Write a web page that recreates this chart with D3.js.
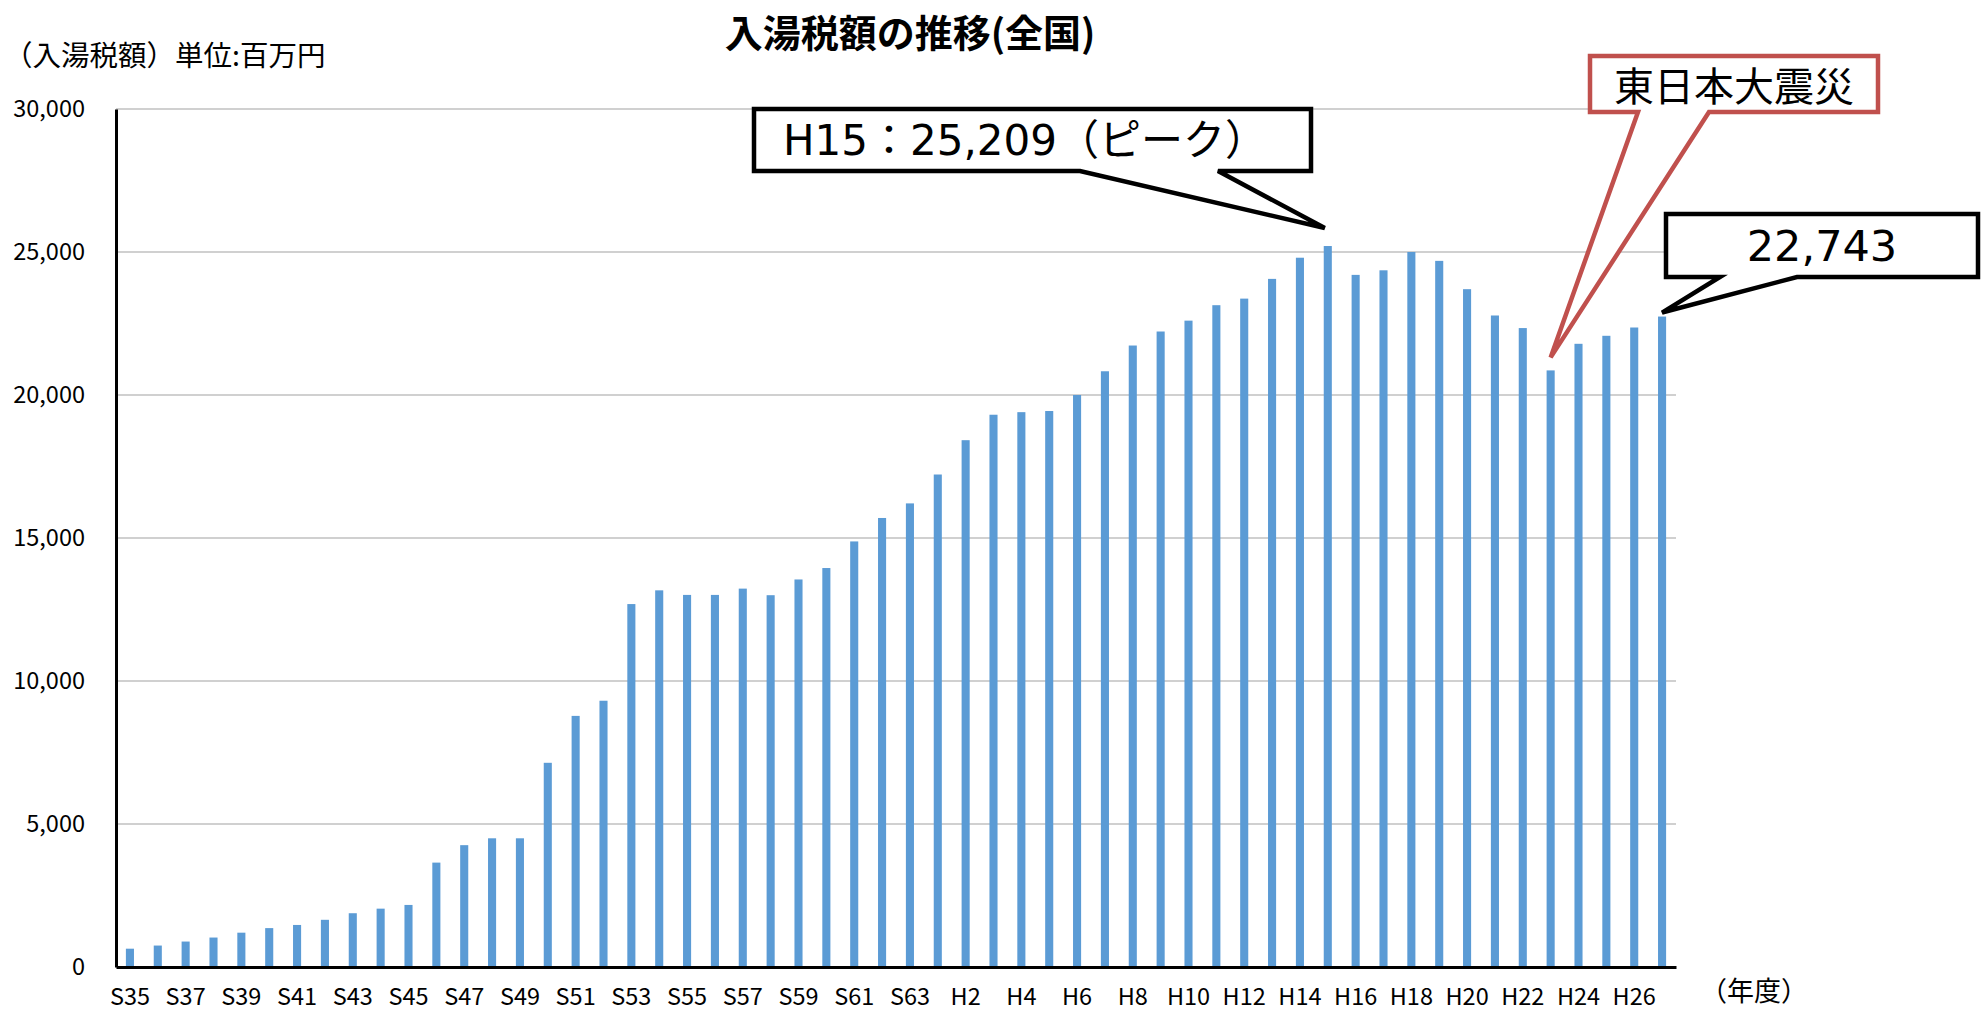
<!DOCTYPE html>
<html>
<head>
<meta charset="utf-8">
<script src="https://cdn.jsdelivr.net/npm/d3@7"></script>
<style>
  body { margin: 0; background: #fff; }
  svg text { font-family: "Noto Sans CJK JP", "Noto Sans", sans-serif; }
</style>
</head>
<body>
<div id="chart"></div>
<script>
// 年度 (昭和35年度〜平成27年度)
var years = ["S35","S36","S37","S38","S39","S40","S41","S42","S43","S44",
  "S45","S46","S47","S48","S49","S50","S51","S52","S53","S54",
  "S55","S56","S57","S58","S59","S60","S61","S62","S63",
  "H1","H2","H3","H4","H5","H6","H7","H8","H9","H10",
  "H11","H12","H13","H14","H15","H16","H17","H18","H19","H20",
  "H21","H22","H23","H24","H25","H26","H27"];

// 入湯税額 (百万円)
var amounts = [640, 750, 890, 1030, 1200, 1360, 1470, 1650, 1880, 2040,
  2170, 3650, 4260, 4500, 4500, 7140, 8780, 9310, 12690, 13170,
  13010, 13010, 13230, 13000, 13550, 13950, 14880, 15700, 16210,
  17220, 18420, 19310, 19400, 19440, 20000, 20830, 21730, 22220, 22600,
  23140, 23370, 24060, 24800, 25209, 24200, 24360, 25000, 24690, 23700,
  22780, 22340, 20860, 21790, 22070, 22360, 22743];

var tickLabels = ["S35","S37","S39","S41","S43","S45","S47","S49","S51","S53",
  "S55","S57","S59","S61","S63","H2","H4","H6","H8","H10","H12","H14",
  "H16","H18","H20","H22","H24","H26"];

var yTicks = [0, 5000, 10000, 15000, 20000, 25000, 30000];

var width = 1984, height = 1015;
var margin = {top: 109, left: 116, right: 308, bottom: 48};

var svg = d3.select("#chart")
  .append("svg")
  .attr("width", width)
  .attr("height", height);

var x = d3.scaleBand()
  .domain(years)
  .range([margin.left, width - margin.right])
  .paddingInner(0.71)
  .paddingOuter(0.355);

var y = d3.scaleLinear()
  .domain([0, 30000])
  .range([height - margin.bottom, margin.top]);

// gridlines
svg.append("g")
  .selectAll("line")
  .data(yTicks.slice(1))
  .enter().append("line")
  .attr("x1", margin.left)
  .attr("x2", width - margin.right)
  .attr("y1", function(d){ return y(d); })
  .attr("y2", function(d){ return y(d); })
  .attr("stroke", "#c0c0c0")
  .attr("stroke-width", 1.6);

// bars
svg.append("g")
  .selectAll("rect")
  .data(amounts)
  .enter().append("rect")
  .attr("x", function(d, i){ return x(years[i]); })
  .attr("width", x.bandwidth())
  .attr("y", function(d){ return y(d); })
  .attr("height", function(d){ return y(0) - y(d); })
  .attr("fill", "#5b9bd5");

// y axis
var yAxis = svg.append("g")
  .attr("transform", "translate(" + margin.left + ",0)")
  .call(d3.axisLeft(y).tickValues(yTicks).tickSize(0).tickPadding(31)
    .tickFormat(d3.format(",")));
yAxis.select(".domain").attr("stroke", "#000").attr("stroke-width", 3);
yAxis.selectAll("text")
  .attr("font-size", 23.5)
  .attr("fill", "#000")
  .style("font-family", "'Noto Sans CJK JP', sans-serif");

// x axis
var xAxis = svg.append("g")
  .attr("transform", "translate(0," + y(0) + ")")
  .call(d3.axisBottom(x).tickValues(tickLabels).tickSize(0).tickPadding(21)
    .tickSizeOuter(0));
xAxis.select(".domain").attr("stroke", "#000").attr("stroke-width", 3);
xAxis.selectAll("text")
  .attr("font-size", 23.5)
  .attr("fill", "#000")
  .style("font-family", "'Noto Sans CJK JP', sans-serif");

// titles
svg.append("text")
  .attr("x", 910)
  .attr("y", 30)
  .attr("text-anchor", "middle")
  .attr("dominant-baseline", "central")
  .attr("font-size", 38)
  .attr("font-weight", "bold")
  .text("入湯税額の推移(全国)");

svg.append("text")
  .attr("x", 4)
  .attr("y", 53)
  .attr("dominant-baseline", "central")
  .attr("font-size", 28.5)
  .text("（入湯税額）単位:百万円");

svg.append("text")
  .attr("x", 1700)
  .attr("y", 989)
  .attr("dominant-baseline", "central")
  .attr("font-size", 27)
  .text("（年度）");

// callouts
function callout(box, baseL, baseR, tip, color, label, fontSize, textX, anchor, family) {
  var p = d3.path();
  p.moveTo(box.x0, box.y0);
  p.lineTo(box.x1, box.y0);
  p.lineTo(box.x1, box.y1);
  p.lineTo(baseR, box.y1);
  p.lineTo(tip[0], tip[1]);
  p.lineTo(baseL, box.y1);
  p.lineTo(box.x0, box.y1);
  p.closePath();
  svg.append("path")
    .attr("d", p.toString())
    .attr("fill", "#fff")
    .attr("stroke", color)
    .attr("stroke-width", 4.5)
    .attr("stroke-linejoin", "miter");
  svg.append("text")
    .attr("x", textX)
    .attr("y", (box.y0 + box.y1) / 2)
    .attr("text-anchor", anchor)
    .attr("dominant-baseline", "central")
    .attr("font-size", fontSize)
    .attr("fill", "#000")
    .style("font-family", family)
    .text(label);
}

var ci = function(name){ return x(name) + x.bandwidth() / 2; };
var latin = "'DejaVu Sans', 'Noto Sans CJK JP', sans-serif";

callout({x0: 754, y0: 109, x1: 1311, y1: 171}, 1080, 1218,
  [ci("H15") - 3, y(amounts[years.indexOf("H15")]) - 18],
  "#000", "H15：25,209（ピーク）", 42, 783, "start", latin);

callout({x0: 1590, y0: 56, x1: 1878, y1: 112}, 1638, 1709,
  [ci("H23"), y(amounts[years.indexOf("H23")]) - 13],
  "#c0504d", "東日本大震災", 40, 1734, "middle", "'Noto Sans CJK JP', sans-serif");

callout({x0: 1666, y0: 214, x1: 1978, y1: 277}, 1720, 1797,
  [ci("H27"), y(amounts[years.indexOf("H27")]) - 4],
  "#000", "22,743", 43, 1822, "middle", latin);
</script>
</body>
</html>
